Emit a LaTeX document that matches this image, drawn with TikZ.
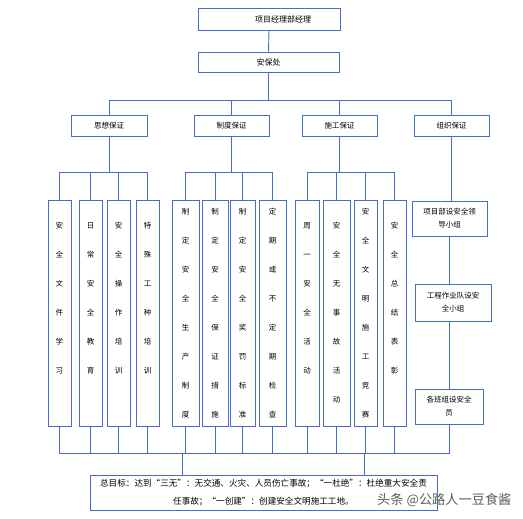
\documentclass[tikz,border=0pt]{standalone}
\usepackage{fontspec}
\setmainfont{Noto Sans CJK SC}
\newfontfamily\cjk{Noto Sans CJK SC}
\definecolor{lb}{RGB}{68,108,200}
\definecolor{wm}{RGB}{95,95,95}
\begin{document}
\begin{tikzpicture}[x=1pt,y=-1pt,
  box/.style={draw=lb, line width=0.9pt, inner sep=0pt, align=center,
    font=\cjk\fontsize{7.5}{13}\selectfont},
  col/.style={box, minimum height=226pt, font=\cjk\fontsize{7.5}{29}\selectfont},
  conn/.style={draw=lb, line width=0.9pt}]
\fill[white] (0,0) rectangle (523,519);
\useasboundingbox (0,0) rectangle (523,519);

% top
\node[box, minimum width=142pt, minimum height=22pt, font=\cjk\fontsize{8}{10}\selectfont] (top) at (269,19) {\hspace*{28pt}项目经理部经理};
\node[box, minimum width=141pt, minimum height=20pt, font=\cjk\fontsize{8}{10}\selectfont] (ab) at (268.5,62) {安保处};

% row 2
\node[box, minimum width=76pt, minimum height=21pt] (s1) at (109,125.5) {思想保证};
\node[box, minimum width=75pt, minimum height=21pt] (s2) at (231.5,125.5) {制度保证};
\node[box, minimum width=75pt, minimum height=21pt] (s3) at (339.5,125.5) {施工保证};
\node[box, minimum width=75pt, minimum height=21pt] (s4) at (451.5,125.5) {组织保证};

% columns
\node[col, minimum width=23pt] (c1) at (59.5,313) {安\\全\\文\\件\\学\\习\\\phantom{安}};
\node[col, minimum width=23pt] (c2) at (90.5,313) {日\\常\\安\\全\\教\\育\\\phantom{安}};
\node[col, minimum width=23pt] (c3) at (118.5,313) {安\\全\\操\\作\\培\\训\\\phantom{安}};
\node[col, minimum width=23pt] (c4) at (147.5,313) {特\\殊\\工\\种\\培\\训\\\phantom{安}};
\node[col, minimum width=27pt] (c5) at (185.5,313) {制\\定\\安\\全\\生\\产\\制\\度};
\node[col, minimum width=26pt] (c6) at (215,313) {制\\定\\安\\全\\保\\证\\措\\施};
\node[col, minimum width=25pt] (c7) at (242.5,313) {制\\定\\安\\全\\奖\\罚\\标\\准};
\node[col, minimum width=27pt] (c8) at (272.5,313) {定\\期\\或\\不\\定\\期\\检\\查};
\node[col, minimum width=24pt] (c9) at (307,313) {周\\一\\安\\全\\活\\动\\\phantom{安}};
\node[col, minimum width=27pt] (c10) at (336.5,313) {安\\全\\无\\事\\故\\活\\动};
\node[col, minimum width=23pt] (c11) at (365.5,313) {安\\全\\文\\明\\施\\工\\竞\\赛};
\node[col, minimum width=23pt] (c12) at (394.5,313) {安\\全\\总\\结\\表\\彰\\\phantom{安}};

% organisation
\node[box, minimum width=75pt, minimum height=35pt] (o1) at (449.5,218.5) {项目部设安全领\\导小组};
\node[box, minimum width=76pt, minimum height=37pt] (o2) at (453,302.5) {工程作业队设安\\全小组};
\node[box, minimum width=68pt, minimum height=35pt] (o3) at (449,406.5) {各班组设安全\\员};

% bottom
\node[box, minimum width=347pt, minimum height=35pt, font=\cjk\fontsize{8.6}{18}\selectfont] (bt) at (263.5,492.5)
  {总目标：达到“三无”：无交通、火灾、人员伤亡事故；“一杜绝”：杜绝重大安全责\\任事故；“一创建”：创建安全文明施工工地。};

% connectors
\coordinate (h1) at (0,100);
\coordinate (h2) at (0,172);
\coordinate (h3) at (0,453);
\draw[conn] (top.south) -- (ab.north);
\draw[conn] (ab.south) -- (ab.south |- h1);
\draw[conn] (s1.north) -- (s1.north |- h1) -| (s4.north);
\draw[conn] (s2.north) -- (s2.north |- h1);
\draw[conn] (s3.north) -- (s3.north |- h1);

\draw[conn] (s1.south) -- (s1.south |- h2);
\draw[conn] (c1.north) -- (c1.north |- h2) -| (c4.north);
\draw[conn] (c2.north) -- (c2.north |- h2);
\draw[conn] (c3.north) -- (c3.north |- h2);

\draw[conn] (s2.south) -- (s2.south |- h2);
\draw[conn] (c5.north) -- (c5.north |- h2) -| (c8.north);
\draw[conn] (c6.north) -- (c6.north |- h2);
\draw[conn] (c7.north) -- (c7.north |- h2);

\draw[conn] (s3.south) -- (s3.south |- h2);
\draw[conn] (c9.north) -- (c9.north |- h2) -| (c12.north);
\draw[conn] (c10.north) -- (c10.north |- h2);
\draw[conn] (c11.north) -- (c11.north |- h2);

\draw[conn] (s4.south) -- (s4.south |- o1.north);
\draw[conn] (o1.south) -- (o1.south |- o2.north);
\draw[conn] (o3.north |- o2.south) -- (o3.north);

\draw[conn] (c1.south) -- (c1.south |- h3) -| (o3.south);
\foreach \c in {c2,c3,c4,c5,c6,c7,c8,c9,c10,c11,c12}
  \draw[conn] (\c.south) -- (\c.south |- h3);
\coordinate (d1) at (182,453);
\coordinate (d2) at (364,453);
\draw[conn] (d1) -- (d1 |- bt.north);
\draw[conn] (d2) -- (d2 |- bt.north);

% watermark
\node[anchor=west, inner sep=0pt, text=wm, font=\cjk\fontsize{13.2}{14}\selectfont] (wmk) at (377,500) {头条 @公路人一豆食酱};
\end{tikzpicture}
\end{document}
